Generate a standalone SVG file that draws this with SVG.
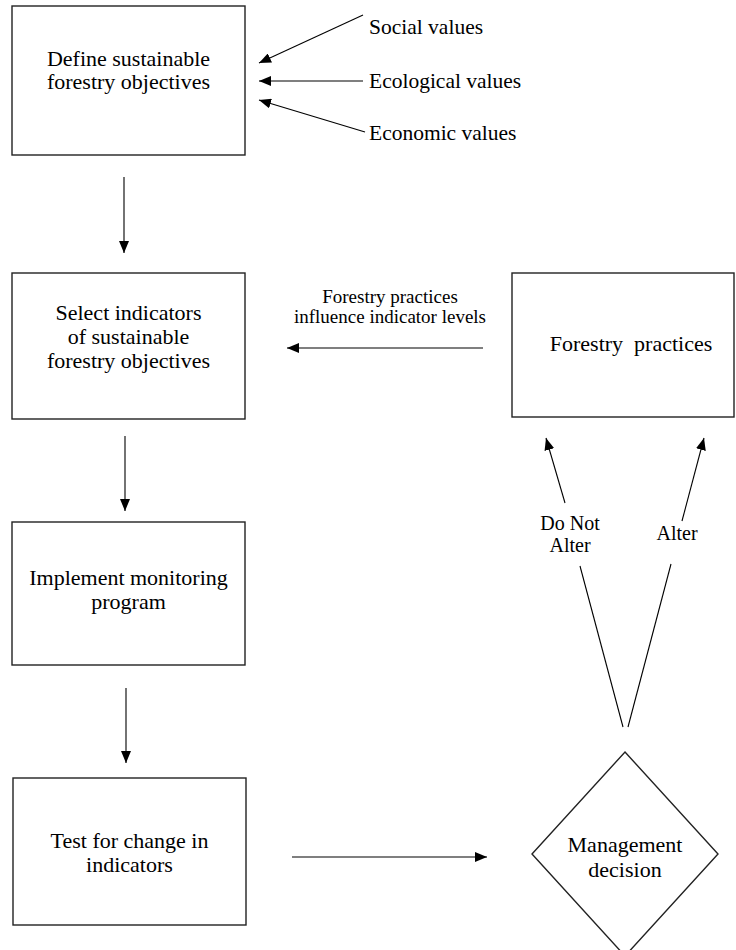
<svg xmlns="http://www.w3.org/2000/svg" width="736" height="950" viewBox="0 0 736 950">
<defs>
<marker id="ah" markerUnits="userSpaceOnUse" markerWidth="13" markerHeight="10" refX="12" refY="5" orient="auto">
<path d="M0,0 L12,5 L0,10 z" fill="#000"/>
</marker>
<style>
.box{fill:#fff;stroke:#222;stroke-width:1.4}
.t{font-family:"Liberation Serif","Times New Roman",serif;font-size:22px;fill:#000;text-anchor:middle}
.l{font-family:"Liberation Serif","Times New Roman",serif;font-size:21.5px;fill:#000}
.s{font-family:"Liberation Serif","Times New Roman",serif;font-size:19px;fill:#000;text-anchor:middle}
.d{font-family:"Liberation Serif","Times New Roman",serif;font-size:20px;fill:#000;text-anchor:middle}
.c{stroke:#000;stroke-width:1.1;fill:none}
.a{stroke:#000;stroke-width:1.1;fill:none;marker-end:url(#ah)}
</style>
</defs>
<rect width="736" height="950" fill="#fff"/>
<g id="n-define">
<rect class="box" x="12" y="6" width="233" height="149"/>
<text class="t" x="128.5" y="66">Define sustainable</text>
<text class="t" x="128.5" y="89">forestry objectives</text>
</g>
<g id="n-social"><text class="l" x="369" y="34">Social values</text></g>
<g id="n-ecological"><text class="l" x="369" y="88">Ecological values</text></g>
<g id="n-economic"><text class="l" x="369" y="140">Economic values</text></g>
<g id="n-select">
<rect class="box" x="12" y="273" width="233" height="146"/>
<text class="t" x="128.5" y="320">Select indicators</text>
<text class="t" x="128.5" y="344">of sustainable</text>
<text class="t" x="128.5" y="368">forestry objectives</text>
</g>
<g id="n-practices">
<rect class="box" x="512" y="273" width="222" height="144"/>
<text class="t" x="631" y="351" xml:space="preserve">Forestry  practices</text>
</g>
<g id="n-monitor">
<rect class="box" x="12" y="522" width="233" height="143"/>
<text class="t" x="128.5" y="585">Implement monitoring</text>
<text class="t" x="128.5" y="609">program</text>
</g>
<g id="n-test">
<rect class="box" x="13" y="778" width="233" height="147"/>
<text class="t" x="129.5" y="848">Test for change in</text>
<text class="t" x="129.5" y="872">indicators</text>
</g>
<g id="n-decision">
<polygon class="box" points="625,752 718,854 625,956 532,854"/>
<text class="t" x="625" y="852">Management</text>
<text class="t" x="625" y="877">decision</text>
</g>
<g id="connectors">
<line class="a" x1="363" y1="15" x2="259" y2="63"/>
<line class="a" x1="363" y1="81" x2="259" y2="81"/>
<line class="a" x1="365" y1="132" x2="259" y2="100"/>
<line class="a" x1="124" y1="177" x2="124" y2="253"/>
<line class="a" x1="125" y1="436" x2="125" y2="511"/>
<line class="a" x1="126" y1="688" x2="126" y2="763"/>
<line class="a" x1="483" y1="348" x2="287" y2="348"/>
<text class="s" x="390" y="303">Forestry practices</text>
<text class="s" x="390" y="323">influence indicator levels</text>
<line class="a" x1="292" y1="857" x2="487" y2="857"/>
<line class="c" x1="623" y1="727" x2="580" y2="566"/>
<line class="a" x1="565" y1="503" x2="546" y2="438"/>
<text class="d" x="570" y="530">Do Not</text>
<text class="d" x="570" y="552">Alter</text>
<line class="c" x1="628" y1="727" x2="671" y2="564"/>
<line class="a" x1="682" y1="521" x2="704" y2="438"/>
<text class="d" x="677" y="540">Alter</text>
</g>
</svg>
